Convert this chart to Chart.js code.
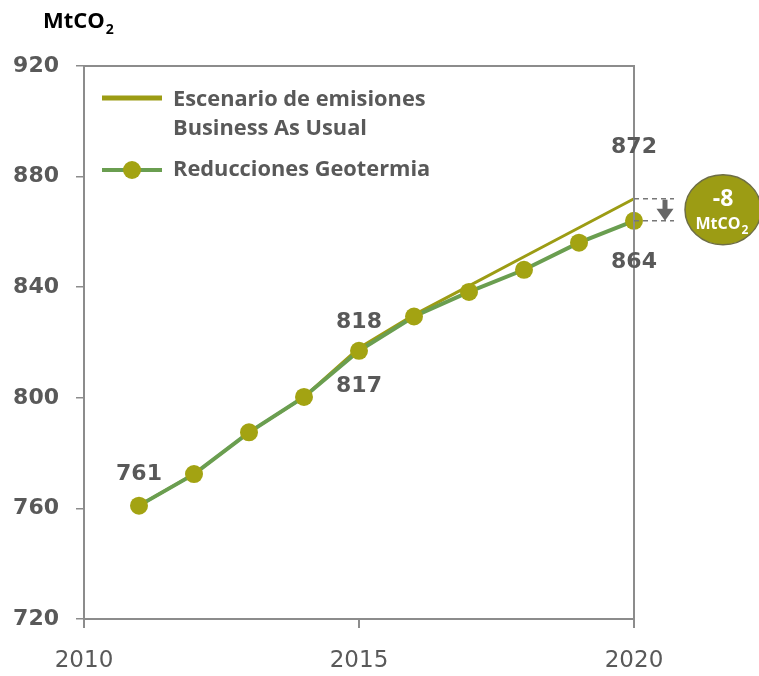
<!DOCTYPE html>
<html>
<head>
<meta charset="utf-8">
<script src="https://cdn.jsdelivr.net/npm/chart.js@4.4.1/dist/chart.umd.min.js"></script>
<style>
  html, body { margin: 0; padding: 0; background: #fff; }
  #wrap { position: relative; width: 759px; height: 676px; }
</style>
</head>
<body>
<div id="wrap"><canvas id="chart"></canvas></div>
<script>
// data
const years = [2011, 2012, 2013, 2014, 2015, 2016, 2017, 2018, 2019, 2020];
const bauValues = [761, 772.4, 787.5, 800.3, 818, 830, 840.5, 851, 861.5, 872];
const geoValues = [761, 772.4, 787.5, 800.3, 817, 829.4, 838.3, 846.3, 856.1, 864];
const seriesNames = ["Escenario de emisiones", "Business As Usual", "Reducciones Geotermia"];
const unitLabel = "MtCO";
const deltaLabel = "-8";

const OLIVE = "#9c9c14";
const DOT = "#a3a312";
const GREEN = "#6a9e50";
const GREY_TXT = "#595959";
const AXIS = "#8c8c8c";

const extras = {
  id: "extras",
  afterDraw(chart) {
    const { ctx, chartArea: a, scales: { x, y } } = chart;
    ctx.save();

    // top + right frame
    ctx.strokeStyle = AXIS;
    ctx.lineWidth = 2;
    ctx.beginPath();
    ctx.moveTo(a.left, a.top);
    ctx.lineTo(a.right, a.top);
    ctx.lineTo(a.right, a.bottom);
    ctx.stroke();

    // unit title
    ctx.fillStyle = "#000";
    ctx.font = "bold 22px 'Open Sans'";
    ctx.textBaseline = "middle";
    ctx.textAlign = "left";
    ctx.fillText(unitLabel, 43, 22);
    let w = ctx.measureText(unitLabel).width;
    ctx.font = "bold 14px 'Open Sans'";
    ctx.fillText("2", 44 + w, 30);

    // legend
    ctx.lineCap = "butt";
    ctx.strokeStyle = OLIVE;
    ctx.lineWidth = 5;
    ctx.beginPath(); ctx.moveTo(102, 98); ctx.lineTo(162, 98); ctx.stroke();
    ctx.strokeStyle = GREEN;
    ctx.lineWidth = 4;
    ctx.beginPath(); ctx.moveTo(102, 170); ctx.lineTo(162, 170); ctx.stroke();
    ctx.fillStyle = DOT;
    ctx.beginPath(); ctx.arc(132, 170, 9, 0, Math.PI * 2); ctx.fill();
    ctx.fillStyle = GREY_TXT;
    ctx.font = "bold 21.8px 'Open Sans'";
    ctx.fillText(seriesNames[0], 173, 100);
    ctx.fillText(seriesNames[1], 173, 129);
    ctx.fillText(seriesNames[2], 173, 170);

    // value labels
    ctx.font = "bold 22px 'DejaVu Sans'";
    ctx.textAlign = "center";
    const lbl = (v, year, dx, dy) => ctx.fillText(String(Math.round(v)), x.getPixelForValue(year) + dx, y.getPixelForValue(v) + dy);
    lbl(geoValues[0], years[0], 0, -31);
    lbl(bauValues[4], years[4], 0, -26);
    lbl(geoValues[4], years[4], 0, 35);
    lbl(bauValues[9], years[9], 0, -51);
    lbl(geoValues[9], years[9], 0, 41);

    // gap marker
    const xe = x.getPixelForValue(years[9]);
    const yb = y.getPixelForValue(bauValues[9]);
    const yg = y.getPixelForValue(geoValues[9]);
    ctx.strokeStyle = "#777";
    ctx.lineWidth = 1.5;
    ctx.setLineDash([5, 4]);
    ctx.beginPath();
    ctx.moveTo(xe, yb); ctx.lineTo(xe + 40, yb);
    ctx.moveTo(xe, yg); ctx.lineTo(xe + 40, yg);
    ctx.stroke();
    ctx.setLineDash([]);
    const ax = xe + 31;
    ctx.strokeStyle = "#666";
    ctx.lineWidth = 5;
    ctx.beginPath(); ctx.moveTo(ax, yb + 1); ctx.lineTo(ax, yg - 11); ctx.stroke();
    ctx.fillStyle = "#666";
    ctx.beginPath();
    ctx.moveTo(ax - 8.5, yg - 12); ctx.lineTo(ax + 8.5, yg - 12); ctx.lineTo(ax, yg);
    ctx.closePath(); ctx.fill();

    // bubble
    const cx = xe + 89, cy = (yb + yg) / 2;
    ctx.beginPath();
    ctx.ellipse(cx, cy, 38, 35, 0, 0, Math.PI * 2);
    ctx.fillStyle = OLIVE;
    ctx.fill();
    ctx.strokeStyle = "#6e6e45";
    ctx.lineWidth = 1.5;
    ctx.stroke();
    ctx.fillStyle = "#fff";
    ctx.font = "bold 23px 'Open Sans'";
    ctx.fillText(deltaLabel, cx, cy - 10);
    ctx.font = "bold 16px 'Open Sans'";
    w = ctx.measureText(unitLabel).width;
    ctx.textAlign = "left";
    ctx.fillText(unitLabel, cx - w / 2 - 5, cy + 15);
    ctx.font = "bold 12px 'Open Sans'";
    ctx.fillText("2", cx + w / 2 - 4, cy + 21);

    ctx.restore();
  }
};

new Chart(document.getElementById("chart"), {
  type: "line",
  data: {
    datasets: [
      {
        label: seriesNames[2],
        data: years.map((yr, i) => ({ x: yr, y: geoValues[i] })),
        borderColor: GREEN,
        borderWidth: 4,
        pointRadius: 9,
        pointBackgroundColor: DOT,
        pointBorderWidth: 0,
        clip: false,
        order: 0,
      },
      {
        label: seriesNames[0] + " " + seriesNames[1],
        data: years.map((yr, i) => ({ x: yr, y: bauValues[i] })),
        borderColor: OLIVE,
        borderWidth: 3,
        pointRadius: 0,
        clip: false,
        order: 1,
      },
    ],
  },
  options: {
    responsive: true,
    maintainAspectRatio: false,
    animation: false,
    layout: { padding: { top: 66, right: 125, left: 0, bottom: 0 } },
    plugins: { legend: { display: false }, tooltip: { enabled: false } },
    scales: {
      x: {
        type: "linear",
        min: 2010,
        max: 2020,
        afterFit(s) { s.height = 57; },
        ticks: { stepSize: 5, color: GREY_TXT, font: { family: "DejaVu Sans", size: 23 }, padding: 19, callback: (v) => String(v) },
        grid: { drawOnChartArea: false, tickLength: 9, color: AXIS, lineWidth: 2 },
        border: { color: AXIS, width: 2 },
      },
      y: {
        min: 720,
        max: 920,
        afterFit(s) { s.width = 84; },
        ticks: { stepSize: 40, color: GREY_TXT, font: { family: "DejaVu Sans", size: 22, weight: "bold" }, padding: 17 },
        grid: { drawOnChartArea: false, tickLength: 8, color: AXIS, lineWidth: 1.5 },
        border: { color: AXIS, width: 2 },
      },
    },
  },
  plugins: [extras],
});
</script>
</body>
</html>
